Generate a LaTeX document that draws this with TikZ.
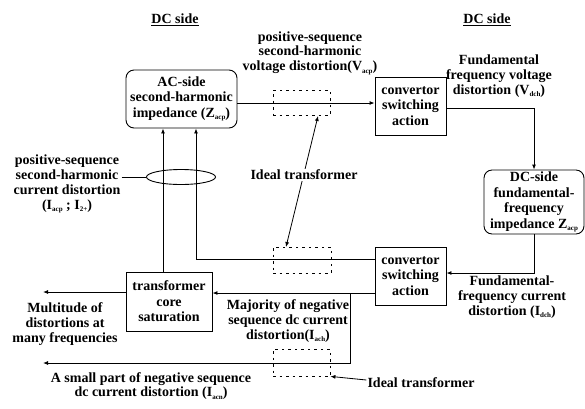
\documentclass[tikz,border=0pt]{standalone}
\usepackage{fontspec}
\setmainfont{Liberation Serif}
\usetikzlibrary{arrows.meta,shapes.geometric}
\newcommand{\lowsub}[1]{\raisebox{-0.35ex}{\fontsize{7}{7}\selectfont #1}}
\begin{document}
\begin{tikzpicture}[x=1pt,y=-1pt,
  every node/.style={font=\fontsize{14}{15.5}\selectfont\bfseries, align=center, inner sep=1pt},
  box/.style={draw, line width=0.9pt, inner sep=2pt},
  rbox/.style={box, rounded corners=8pt},
  tbox/.style={draw, dash pattern=on 2.5pt off 4pt, line width=0.8pt, inner sep=0pt},
  arr/.style={line width=0.9pt, -{Latex[length=5pt,width=4pt]}},
  ln/.style={line width=0.9pt},
  lbl/.style={font=\fontsize{14}{14.8}\selectfont\bfseries}
]
\useasboundingbox (0,0) rectangle (585,408);

% titles
\node (dcl) at (175,20) {\underline{DC side}};
\node (dcr) at (487,20) {\underline{DC side}};

% boxes
\node[rbox, minimum width=111, minimum height=58] (ac) at (181.5,99)
  {AC-side\\second-harmonic\\impedance (Z\lowsub{acp})};
\node[box, minimum width=71, minimum height=58] (conv1) at (410.5,106)
  {convertor\\switching\\action};
\node[rbox, minimum width=100, minimum height=60] (dcbox) at (534,202)
  {DC-side\\fundamental-\\frequency\\impedance Z\lowsub{acp}};
\node[box, minimum width=71, minimum height=58] (conv2) at (410.5,276)
  {convertor\\switching\\action};
\node[box, minimum width=86, minimum height=59] (trans) at (169,301.5)
  {transformer\\core\\saturation};

% ideal transformer symbols
\node[tbox, minimum width=57, minimum height=25] (tr1) at (301.5,102.5) {};
\node[tbox, minimum width=58, minimum height=26] (tr2) at (302,260) {};
\node[tbox, minimum width=57, minimum height=27] (tr3) at (301.5,362.5) {};

% labels
\node[lbl] (vtxt) at (310,53) {positive-sequence\\second-harmonic\\voltage distortion(V\lowsub{acp})};
\node[lbl] (fvtxt) at (499,76) {Fundamental\\frequency voltage\\distortion (V\lowsub{dch})};
\node[lbl] (fctxt) at (512,297) {Fundamental-\\frequency current\\distortion (I\lowsub{dch})};
\node[lbl] (ctxt) at (67,184) {positive-sequence\\second-harmonic\\current distortion\\(I\lowsub{acp} ; I\lowsub{2+})};
\node[lbl] (mtxt) at (65,324) {Multitude of\\distortions at\\many frequencies};
\node[lbl] (majtxt) at (288,321) {Majority of negative\\sequence dc current\\distortion(I\lowsub{ach})};
\node[lbl] (smtxt) at (151,386) {A small part of negative sequence\\dc current distortion (I\lowsub{acn})};
\node[lbl] (idl2) at (421,383) {Ideal transformer};

% coordinates
\coordinate (j1) at (350,293);
\coordinate (smallend) at (43,363);
\coordinate (multend) at (43,292);
\coordinate (itop) at (318,116);
\coordinate (ibot) at (286,247);

% connectors
\draw[arr] ([yshift=-4]ac.east) -- ([yshift=-4]ac.east -| conv1.west);
\draw[arr] ([yshift=-2]conv1.east) -| (dcbox.north);
\draw[arr] (dcbox.south) |- ([yshift=3]conv2.east);
\draw[arr] ([yshift=17]conv2.west) -| ([xshift=14.5]ac.south);
\draw[arr] ([xshift=-6]trans.north) -- ([xshift=-18.5]ac.south);
\draw[arr] ([yshift=-17]conv2.west) -- ([yshift=8.5]trans.east);
\draw[arr] (j1) |- (smallend);
\draw[arr] ([yshift=9.5]trans.west) -- (multend);

% ellipse grouping
\node[ellipse, draw, line width=0.9pt, minimum width=69, minimum height=15, inner sep=0pt] (ell) at (181,177) {};
\draw[ln] (ctxt.east |- ell.west) -- (ell.west);

% ideal transformer arrows
\draw[line width=0.8pt, {Latex[length=5pt,width=4pt]}-{Latex[length=5pt,width=4pt]}] (itop) -- (ibot);
\node[lbl, fill=white, inner sep=1pt] (idl1) at (304,175) {Ideal transformer};
\draw[line width=0.8pt, -{Latex[length=5pt,width=4pt]}] ([yshift=3]idl2.west) -- (tr3.south east);
\end{tikzpicture}
\end{document}
